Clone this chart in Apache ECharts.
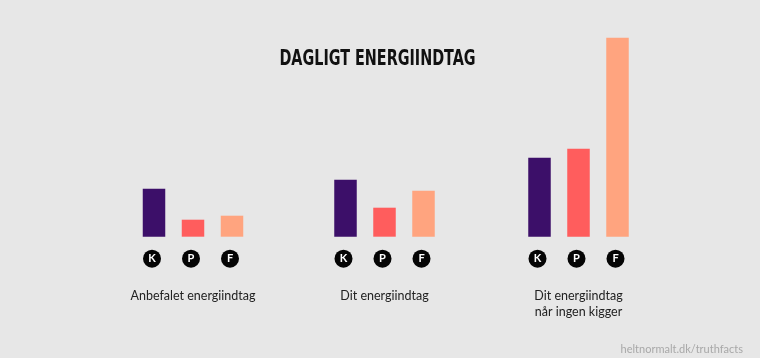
<!DOCTYPE html>
<html><head><meta charset="utf-8">
<script src="https://cdn.jsdelivr.net/npm/echarts@6/dist/echarts.min.js"></script>
<style>html,body{margin:0;padding:0;background:#e7e7e7}#c{width:760px;height:358px}</style>
</head><body><div id="c"></div>
<script>
const categories = ['K', 'P', 'F'];
const groupNames = ['Anbefalet energiindtag', 'Dit energiindtag', 'Dit energiindtag\nnår ingen kigger'];
const recommended = [48, 17, 21];
const actual = [57, 29, 46];
const unobserved = [79, 88, 199];
const groups = [recommended, actual, unobserved];
const colors = ['#3c0f69', '#ff5d5d', '#ffa47f'];

const lefts = [134.5, 326, 520];
const chart = echarts.init(document.getElementById('c'));
const grids = [], xAxes = [], yAxes = [], series = [];
groups.forEach((vals, i) => {
  grids.push({left: lefts[i], width: 117, top: 36.7, bottom: 121.3});
  xAxes.push({
    type: 'category', gridIndex: i, data: categories,
    axisLine: {show: false}, axisTick: {show: false},
    axisLabel: {
      margin: 13, interval: 0, hideOverlap: false,
      formatter: v => '{c|' + v + '}{s|}',
      rich: {
        c: {color: '#fff', fontWeight: 'bold', fontSize: 11, fontFamily: 'Lato',
          backgroundColor: '#050505', borderRadius: 9, width: 18, height: 18, lineHeight: 18, align: 'center'},
        s: {width: 4, height: 18}
      }
    },
    name: groupNames[i], nameLocation: 'middle', nameGap: 51,
    nameTextStyle: {color: '#222', fontSize: 12.5, fontFamily: 'Lato', lineHeight: 16}
  });
  yAxes.push({type: 'value', gridIndex: i, min: 0, max: 200, show: false, splitLine: {show: false}});
  series.push({
    type: 'bar', xAxisIndex: i, yAxisIndex: i, barWidth: 22.5,
    data: vals.map((v, j) => ({value: v, itemStyle: {color: colors[j]}})),
    silent: true, animation: false
  });
});
chart.setOption({
  backgroundColor: '#e7e7e7',
  animation: false,
  title: [{
    text: 'heltnormalt.dk/truthfacts', right: 12, top: 339,
    textStyle: {fontFamily: 'Lato', fontWeight: 'normal', fontSize: 11, color: '#a8a8a8'}
  }],
  graphic: [{
    type: 'text', x: 377.5, y: 59.5, scaleX: 0.76,
    style: {text: 'DAGLIGT ENERGIINDTAG', fill: '#111', align: 'center', verticalAlign: 'middle',
      font: 'bold 21px "DejaVu Sans Condensed", sans-serif'}
  }],
  grid: grids, xAxis: xAxes, yAxis: yAxes, series: series
});
</script></body></html>
